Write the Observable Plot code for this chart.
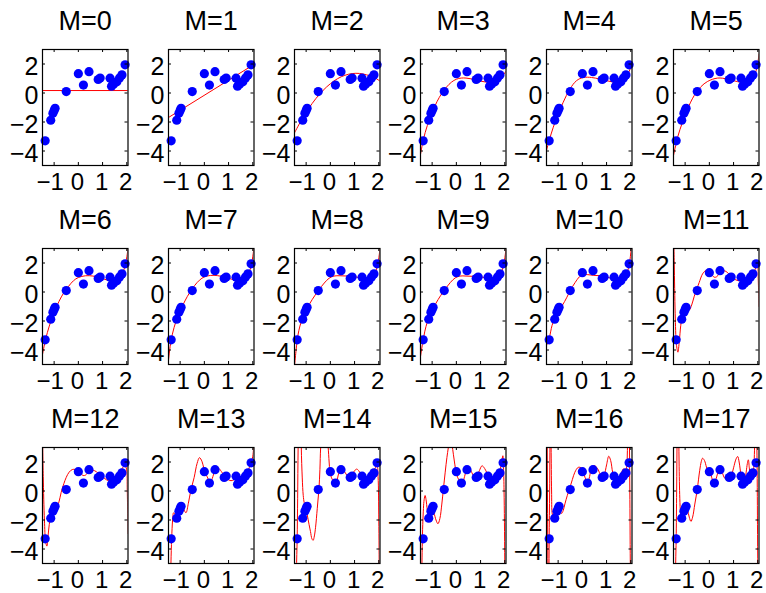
<!DOCTYPE html>
<html><head><meta charset="utf-8">
<script src="https://cdn.jsdelivr.net/npm/d3@7"></script>
<script src="https://cdn.jsdelivr.net/npm/@observablehq/plot@0.6"></script>
<style>
body{margin:0;background:#fff;}
#chart{position:relative;width:766px;height:593px;font-family:"Liberation Sans",Arial,sans-serif;}
#chart svg{position:absolute;overflow:visible;background:transparent;}
</style></head><body><div id="chart"></div>
<script>
// observed data points
const dataX = [-1.37, -1.14, -1.05, -1.0, -0.96, -0.5, 0.0, 0.21, 0.44, 0.82, 0.9, 1.31, 1.37, 1.46, 1.59, 1.7, 1.8, 1.93];
const dataY = [-3.3, -1.88, -1.4, -1.2, -1.06, 0.1, 1.33, 0.55, 1.47, 0.93, 1.03, 1.02, 0.47, 0.62, 0.77, 1.03, 1.25, 1.94];
const xTicks = [-1, 0, 1, 2];
const yTicks = [-4, -2, 0, 2];
const xDomain = [-1.48, 2.05];
const yDomain = [-5, 3];

// fitted curves as [x, y] samples
const fit0 = [[-1.48,0.17],[2.05,0.17]];
const fit1 = [[-1.48,-1.69],[2.05,1.97]];
const fit2 = [[-1.48,-2.75],[-1.2,-1.89],[-0.9,-1.08],[-0.6,-0.39],[-0.3,0.18],[0,0.64],[0.3,0.99],[0.6,1.22],[0.9,1.34],[1.2,1.35],[1.5,1.25],[1.8,1.08],[2.05,0.82]];
const fit3 = [[-1.48,-4.24],[-1.36,-3.2],[-1.2,-2.25],[-1.0,-1.35],[-0.8,-0.6],[-0.6,-0.02],[-0.4,0.42],[-0.2,0.75],[0,0.95],[0.2,1.03],[0.4,1.03],[0.6,0.98],[0.8,0.9],[1.0,0.82],[1.2,0.76],[1.4,0.75],[1.6,0.82],[1.8,1.0],[2.05,1.5]];
const fit4 = [[-1.48,-3.97],[-1.37,-3.28],[-1.2,-2.36],[-1.0,-1.45],[-0.79,-0.64],[-0.515,0.27],[-0.24,0.85],[0.04,1.07],[0.38,1.07],[0.72,0.96],[1.14,0.8],[1.42,0.73],[1.69,0.91],[1.91,1.42],[2.05,1.99]];
const fit5 = [[-1.48,-4.31],[-1.31,-3.05],[-1.11,-2.02],[-0.9,-1.1],[-0.63,-0.19],[-0.35,0.43],[-0.07,0.8],[0.34,1.03],[0.75,0.96],[1.17,0.78],[1.45,0.73],[1.72,0.91],[1.93,1.53],[2.05,2.68]];
const fit6 = [[-1.48,-4.3],[-1.35,-3.25],[-1.2,-2.35],[-1.0,-1.4],[-0.8,-0.65],[-0.6,-0.05],[-0.4,0.4],[-0.2,0.78],[0,1.0],[0.3,1.12],[0.6,1.1],[0.9,0.98],[1.2,0.82],[1.4,0.78],[1.6,0.87],[1.8,1.22],[1.95,1.95],[2.05,3.0]];
const fit7 = [[-1.48,-4.7],[-1.38,-3.4],[-1.25,-2.45],[-1.1,-1.7],[-0.9,-0.95],[-0.7,-0.3],[-0.5,0.22],[-0.3,0.65],[-0.1,0.95],[0.1,1.1],[0.4,1.15],[0.7,1.08],[1.0,0.95],[1.25,0.82],[1.45,0.8],[1.65,0.9],[1.82,1.25],[1.95,1.95],[2.05,3.1]];
const fit8 = [[-1.48,-5.1],[-1.42,-4.1],[-1.37,-3.35],[-1.3,-2.65],[-1.2,-2.05],[-1.05,-1.45],[-0.85,-0.8],[-0.65,-0.27],[-0.47,0.15],[-0.25,0.62],[-0.05,0.95],[0.15,1.1],[0.4,1.12],[0.7,1.1],[1.0,1.05],[1.25,0.98],[1.45,0.92],[1.65,0.98],[1.82,1.25],[1.95,1.85],[2.05,3.0]];
const fit9 = [[-1.48,-4.45],[-1.4,-3.6],[-1.3,-2.7],[-1.2,-2.08],[-1.05,-1.45],[-0.85,-0.8],[-0.65,-0.25],[-0.47,0.17],[-0.25,0.65],[-0.05,0.97],[0.15,1.1],[0.4,1.1],[0.7,1.08],[1.0,1.04],[1.25,0.98],[1.45,0.93],[1.65,0.98],[1.82,1.25],[1.95,1.85],[2.05,3.0]];
const fit10 = [[-1.48,-3.7],[-1.37,-3.2],[-1.25,-2.3],[-1.14,-1.8],[-1.05,-1.45],[-0.95,-1.15],[-0.82,-0.9],[-0.65,-0.4],[-0.5,0.1],[-0.3,0.65],[-0.12,1.05],[0.0,1.18],[0.2,1.2],[0.45,1.15],[0.75,1.12],[1.0,1.05],[1.25,0.9],[1.45,0.85],[1.65,0.95],[1.8,1.2],[1.92,1.75],[2.0,2.7],[2.05,3.6]];
const fit11 = [[-1.48,4.5],[-1.45,2.0],[-1.41,-1.5],[-1.36,-3.6],[-1.3,-4.15],[-1.24,-3.4],[-1.18,-2.3],[-1.12,-1.7],[-1.04,-1.42],[-0.93,-1.3],[-0.83,-1.25],[-0.73,-0.9],[-0.63,-0.33],[-0.52,0.2],[-0.42,0.65],[-0.28,1.25],[-0.15,1.48],[-0.05,1.48],[0.07,1.28],[0.2,1.02],[0.3,1.05],[0.41,1.25],[0.55,1.45],[0.65,1.45],[0.82,1.23],[1.0,0.92],[1.2,0.78],[1.38,0.78],[1.55,0.9],[1.7,1.12],[1.86,1.42],[1.95,1.85],[1.99,1.8],[2.02,0.8],[2.05,-1.0]];
const fit12 = [[-1.48,4.0],[-1.45,1.0],[-1.4,-2.0],[-1.35,-3.5],[-1.3,-3.8],[-1.25,-3.1],[-1.2,-2.3],[-1.14,-1.8],[-1.06,-1.5],[-0.98,-1.25],[-0.9,-1.15],[-0.8,-0.75],[-0.71,-0.1],[-0.6,0.5],[-0.5,0.94],[-0.38,1.3],[-0.25,1.48],[-0.12,1.48],[0.05,1.29],[0.2,1.07],[0.3,1.1],[0.42,1.33],[0.55,1.43],[0.67,1.4],[0.82,1.23],[0.95,1.06],[1.1,0.85],[1.22,0.72],[1.35,0.7],[1.5,0.85],[1.7,1.29],[1.85,1.65],[1.93,1.75],[1.99,1.5],[2.02,0.0],[2.05,-2.94]];
const fit13 = [[-1.48,-14],[-1.43,-8],[-1.38,-5],[-1.35,-3.3],[-1.31,-2.0],[-1.27,-1.5],[-1.21,-1.6],[-1.15,-1.88],[-1.05,-1.45],[-0.96,-1.1],[-0.86,-1.25],[-0.76,-1.5],[-0.66,-0.85],[-0.56,0.03],[-0.42,0.94],[-0.3,1.9],[-0.2,2.3],[-0.1,2.05],[-0.03,1.63],[0.07,1.15],[0.14,0.9],[0.22,0.6],[0.3,0.75],[0.41,1.29],[0.5,1.55],[0.58,1.58],[0.7,1.35],[0.82,1.06],[0.95,0.82],[1.1,0.71],[1.25,0.8],[1.37,0.95],[1.5,1.0],[1.65,1.06],[1.78,1.35],[1.86,1.63],[1.93,1.95],[2.0,2.4],[2.05,3.4]];
const fit14 = [[-1.48,-30],[-1.43,-9],[-1.4,-5.5],[-1.37,-3.3],[-1.35,-0.5],[-1.33,3],[-1.28,7],[-1.22,6],[-1.2,3],[-1.16,0.9],[-1.12,-0.3],[-1.08,-0.8],[-1.03,-1.1],[-0.96,-1.6],[-0.88,-2.3],[-0.82,-2.8],[-0.76,-3.3],[-0.71,-3.4],[-0.66,-3.1],[-0.61,-2.5],[-0.54,-1.2],[-0.47,0.14],[-0.43,1.5],[-0.4,3.0],[-0.3,5],[-0.2,5],[-0.12,3.5],[-0.09,3.0],[-0.05,2.0],[-0.02,1.4],[0.04,0.95],[0.12,0.7],[0.22,0.6],[0.3,0.9],[0.36,1.29],[0.49,1.51],[0.6,1.3],[0.7,1.06],[0.8,1.02],[0.91,1.17],[1.0,1.4],[1.09,1.51],[1.17,1.4],[1.25,1.17],[1.35,0.85],[1.46,0.71],[1.56,0.82],[1.67,1.06],[1.8,1.45],[1.87,1.63],[1.93,1.7],[1.97,1.0],[2.0,-2],[2.02,-6],[2.05,-15]];
const fit15 = [[-1.48,-20],[-1.44,-8],[-1.42,-5],[-1.38,-2.0],[-1.33,-0.6],[-1.29,-0.31],[-1.25,-0.6],[-1.2,-1.3],[-1.15,-1.69],[-1.08,-1.5],[-1.01,-1.3],[-0.93,-1.5],[-0.84,-2.0],[-0.76,-2.26],[-0.68,-1.9],[-0.6,-0.9],[-0.53,0.2],[-0.46,1.3],[-0.39,2.3],[-0.33,3.0],[-0.25,3.8],[-0.18,3.2],[-0.12,2.5],[-0.06,1.8],[-0.02,1.4],[0.05,0.95],[0.13,0.71],[0.2,0.6],[0.27,0.65],[0.34,1.0],[0.41,1.4],[0.48,1.57],[0.55,1.55],[0.63,1.3],[0.71,1.06],[0.78,0.98],[0.85,1.05],[0.95,1.4],[1.06,1.74],[1.17,1.55],[1.27,1.22],[1.38,0.9],[1.48,0.71],[1.58,0.82],[1.68,1.06],[1.78,1.4],[1.85,1.74],[1.89,2.2],[1.92,2.43],[1.95,1.5],[1.97,0],[2.0,-5],[2.05,-20]];
const fit16 = [[-1.48,12],[-1.46,6],[-1.44,0],[-1.42,-6],[-1.4,-9],[-1.38,-6],[-1.37,-3.3],[-1.35,0],[-1.33,4],[-1.31,5],[-1.29,3],[-1.27,0],[-1.24,-1.6],[-1.2,-1.75],[-1.14,-1.88],[-1.07,-1.3],[-1.0,-1.15],[-0.93,-1.3],[-0.86,-1.55],[-0.79,-1.35],[-0.72,-0.89],[-0.62,-0.3],[-0.51,0.26],[-0.41,0.8],[-0.31,1.29],[-0.17,1.63],[-0.03,1.58],[0.05,1.25],[0.11,0.94],[0.22,0.6],[0.3,1.0],[0.36,1.51],[0.45,1.72],[0.52,1.74],[0.6,1.6],[0.66,1.45],[0.75,1.1],[0.82,0.95],[0.9,1.1],[1.0,1.8],[1.09,2.4],[1.17,2.1],[1.25,1.3],[1.33,0.85],[1.42,0.5],[1.5,0.7],[1.58,1.05],[1.65,1.4],[1.72,1.55],[1.78,1.4],[1.83,1.7],[1.86,2.8],[1.88,5],[1.91,7],[1.94,4],[1.96,0],[1.98,-5],[2.02,-12],[2.05,-15]];
const fit17 = [[-1.48,-25],[-1.42,-9],[-1.39,-5],[-1.37,-3.3],[-1.35,0],[-1.33,4],[-1.3,7],[-1.27,5],[-1.25,2],[-1.22,-0.5],[-1.19,-1.5],[-1.15,-1.94],[-1.1,-1.8],[-1.05,-1.42],[-1.0,-1.2],[-0.95,-1.06],[-0.9,-1.3],[-0.83,-1.8],[-0.76,-2.1],[-0.69,-1.8],[-0.6,-0.9],[-0.5,0.1],[-0.4,1.4],[-0.33,2.05],[-0.28,2.26],[-0.2,2.1],[-0.12,1.65],[-0.06,1.4],[0.0,1.33],[0.06,1.15],[0.13,0.75],[0.21,0.55],[0.28,0.85],[0.37,1.34],[0.44,1.5],[0.5,1.45],[0.57,1.1],[0.64,0.88],[0.72,0.92],[0.82,0.93],[0.9,1.03],[1.0,1.6],[1.1,2.2],[1.17,2.38],[1.23,2.0],[1.31,1.02],[1.37,0.47],[1.42,0.5],[1.46,0.62],[1.52,1.3],[1.57,1.9],[1.61,2.15],[1.65,1.6],[1.7,1.03],[1.75,1.1],[1.8,1.25],[1.84,1.8],[1.88,4],[1.91,6],[1.94,5],[1.97,2],[1.99,-3],[2.02,-10],[2.05,-20]];

const fits = [fit0, fit1, fit2, fit3, fit4, fit5, fit6, fit7, fit8, fit9, fit10, fit11, fit12, fit13, fit14, fit15, fit16, fit17];
const titles = fits.map((_, m) => `M=${m}`);

const points = dataX.map((x, i) => ({x, y: dataY[i]}));
const fmt = d => d < 0 ? "\u2212" + Math.abs(d) : String(d);
const frameW = 85.5, frameH = 116;
const mL = 40, mT = 48, mR = 4, mB = 30;
const chart = document.getElementById("chart");
const font = "'Liberation Sans', Arial, Helvetica, sans-serif";

fits.forEach((fit, m) => {
  const r = Math.floor(m / 6), c = m % 6;
  const svg = Plot.plot({
    width: mL + frameW + mR, height: mT + frameH + mB,
    marginLeft: mL, marginTop: mT, marginRight: mR, marginBottom: mB,
    x: {domain: xDomain}, y: {domain: yDomain},
    axis: null,
    style: {background: "transparent", overflow: "visible", fontFamily: font},
    marks: [
      Plot.line(fit, {x: d => d[0], y: d => d[1], stroke: "#ff0000", strokeWidth: 1, curve: "catmull-rom", clip: true}),
      Plot.dot(points, {x: "x", y: "y", r: 4.6, fill: "#0000ff", stroke: "none"}),
      Plot.tickX(xTicks, {x: d => d, stroke: "black", insetTop: frameH - 3}),
      Plot.tickX(xTicks, {x: d => d, stroke: "black", insetBottom: frameH - 3}),
      Plot.tickY(yTicks, {y: d => d, stroke: "black", insetLeft: frameW - 3}),
      Plot.tickY(yTicks, {y: d => d, stroke: "black", insetRight: frameW - 3}),
      Plot.frame({stroke: "black", strokeWidth: 1.2}),
      Plot.text(xTicks.filter(d => d < 0), {x: d => d, frameAnchor: "bottom", lineAnchor: "top", dx: -4, dy: 7, text: fmt, fontSize: 24, fill: "black"}),
      Plot.text(xTicks.filter(d => d >= 0), {x: d => d, frameAnchor: "bottom", lineAnchor: "top", dx: -1, dy: 7, text: fmt, fontSize: 24, fill: "black"}),
      Plot.text(yTicks, {y: d => d, frameAnchor: "left", textAnchor: "end", dx: -4, dy: 3, text: fmt, fontSize: 25, fill: "black"}),
      Plot.text([titles[m]], {text: d => d, frameAnchor: "top", lineAnchor: "bottom", dy: -20, fontSize: 27, fill: "black"})
    ]
  });
  svg.style.left = (41.5 + 126.2 * c - mL) + "px";
  svg.style.top = (48.7 + 199 * r - mT) + "px";
  chart.appendChild(svg);
});
</script>
</body></html>
